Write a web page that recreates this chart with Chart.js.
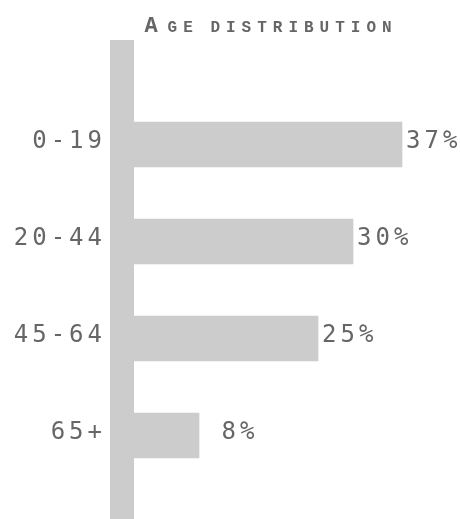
<!DOCTYPE html>
<html>
<head>
<meta charset="utf-8">
<script src="https://cdn.jsdelivr.net/npm/chart.js@4"></script>
<style>
html,body{margin:0;padding:0;background:#fff;}
#wrap{width:460px;height:519px;}
</style>
</head>
<body>
<div id="wrap"><canvas id="c"></canvas></div>
<script>
const titleText = 'Age distribution';
const categories = ['0-19', '20-44', '45-64', '65+'];
const values = [37, 30, 25, 8];
const valueLabels = ['37%', '30%', '25%', ' 8%'];
const xMin = -3, xMax = 43;
const yMin = -0.954, yMax = 3.861;

const FONT = "'DejaVu Sans Mono', monospace";
const TITLE_FONT = "'Liberation Mono', 'DejaVu Sans Mono', monospace";
const GREY = '#cccccc';
const TEXT = '#666666';

const spacingPlugin = {
  id: 'spacing',
  beforeDraw(chart) { chart.ctx.letterSpacing = '4px'; }
};

// Small-caps title: first letter large, the rest as smaller capitals
const titlePlugin = {
  id: 'smallCapsTitle',
  afterDraw(chart) {
    const ctx = chart.ctx;
    const first = titleText.charAt(0).toUpperCase();
    const rest = titleText.slice(1).toUpperCase();
    ctx.save();
    ctx.fillStyle = TEXT;
    ctx.textAlign = 'left';
    ctx.textBaseline = 'alphabetic';
    ctx.letterSpacing = '6px';
    ctx.wordSpacing = '-4px';
    const bigFont = "bold 22px " + TITLE_FONT;
    const smallFont = "bold 16px " + TITLE_FONT;
    ctx.font = bigFont;
    const wFirst = ctx.measureText(first).width + 4;
    ctx.font = smallFont;
    const wRest = ctx.measureText(rest).width - 6;
    const cx = 268;
    const x0 = cx - (wFirst + wRest) / 2;
    ctx.font = bigFont;
    ctx.fillText(first, x0, 32);
    ctx.font = smallFont;
    ctx.fillText(rest, x0 + wFirst, 32);
    ctx.restore();
  }
};

const valueLabelPlugin = {
  id: 'valueLabels',
  afterDatasetsDraw(chart) {
    const ctx = chart.ctx;
    const meta = chart.getDatasetMeta(0);
    ctx.save();
    ctx.letterSpacing = '4px';
    ctx.font = "24px " + FONT;
    ctx.fillStyle = TEXT;
    ctx.textAlign = 'left';
    ctx.textBaseline = 'middle';
    meta.data.forEach((bar, i) => {
      ctx.fillText(valueLabels[i], bar.x + 4, bar.y - 3);
    });
    ctx.restore();
  }
};

new Chart(document.getElementById('c'), {
  type: 'bar',
  data: {
    datasets: [{
      data: values.map((v, i) => ({ x: v, y: i })),
      backgroundColor: GREY,
      borderWidth: 0,
      barThickness: 45,
      base: xMin
    }]
  },
  options: {
    indexAxis: 'y',
    responsive: true,
    maintainAspectRatio: false,
    animation: false,
    layout: { padding: { top: 52, right: 16, bottom: 0, left: 0 } },
    plugins: {
      legend: { display: false },
      title: { display: false },
      tooltip: { enabled: false }
    },
    scales: {
      x: {
        type: 'linear',
        display: false,
        min: xMin,
        max: xMax
      },
      y: {
        type: 'linear',
        reverse: true,
        offset: false,
        min: yMin,
        max: yMax,
        afterBuildTicks(scale) {
          scale.ticks = categories.map((c, i) => ({ value: i }));
        },
        afterFit(scale) {
          scale.width = 122;
          scale.paddingTop = 0;
          scale.paddingBottom = 0;
        },
        grid: { display: false, drawTicks: false, offset: false },
        border: { display: true, color: GREY, width: 24 },
        ticks: {
          padding: 16,
          labelOffset: -3,
          color: TEXT,
          font: { family: FONT, size: 24 },
          callback: (v) => categories[v]
        }
      }
    }
  },
  plugins: [spacingPlugin, titlePlugin, valueLabelPlugin]
});
</script>
</body>
</html>
